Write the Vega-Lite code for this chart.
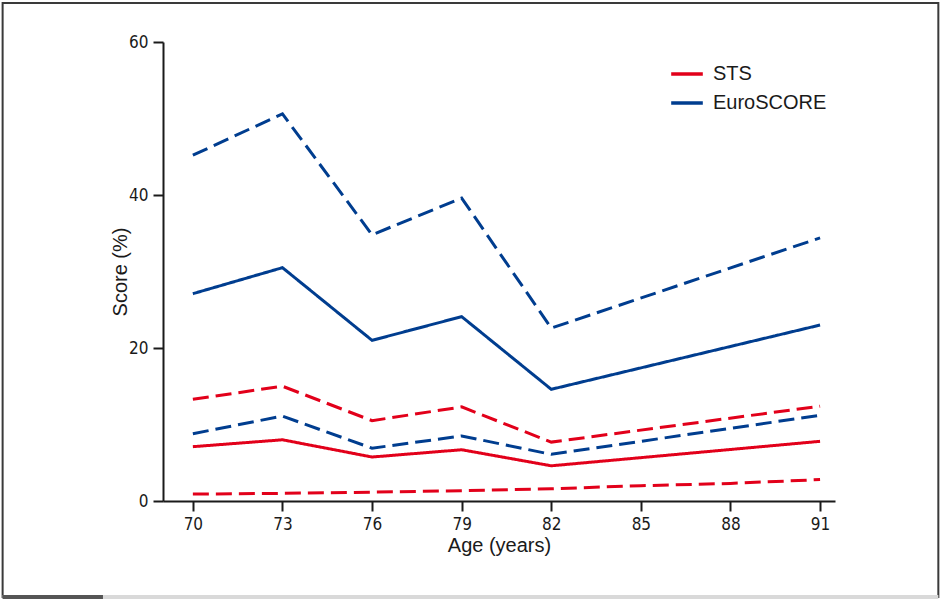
{
  "$schema": "https://vega.github.io/schema/vega-lite/v6.json",
  "width": 672,
  "height": 459,
  "autosize": {"type": "none"},
  "padding": {"left": 163, "top": 42, "right": 105, "bottom": 98},
  "background": "white",
  "config": {
    "view": {"stroke": null},
    "font": "Liberation Sans",
    "axis": {
      "domainColor": "#1a1a1a",
      "domainWidth": 2,
      "tickColor": "#1a1a1a",
      "tickWidth": 2,
      "tickSize": 10,
      "grid": false,
      "labelFont": "DejaVu Sans Condensed, Liberation Sans, sans-serif",
      "labelFontSize": 17,
      "labelColor": "#1a1a1a",
      "titleFont": "Liberation Sans",
      "titleFontSize": 20,
      "titleFontWeight": "normal",
      "titleColor": "#1a1a1a"
    },
    "legend": {
      "labelFont": "Liberation Sans",
      "labelFontSize": 20,
      "labelColor": "#1a1a1a"
    }
  },
  "datasets": {
    "scores": [
      {"age": 70, "score": 27.1, "system": "EuroSCORE", "band": "mean"},
      {"age": 73, "score": 30.5, "system": "EuroSCORE", "band": "mean"},
      {"age": 76, "score": 21.0, "system": "EuroSCORE", "band": "mean"},
      {"age": 79, "score": 24.1, "system": "EuroSCORE", "band": "mean"},
      {"age": 82, "score": 14.6, "system": "EuroSCORE", "band": "mean"},
      {"age": 91, "score": 23.0, "system": "EuroSCORE", "band": "mean"},
      {"age": 70, "score": 45.2, "system": "EuroSCORE", "band": "upper"},
      {"age": 73, "score": 50.6, "system": "EuroSCORE", "band": "upper"},
      {"age": 76, "score": 34.8, "system": "EuroSCORE", "band": "upper"},
      {"age": 79, "score": 39.6, "system": "EuroSCORE", "band": "upper"},
      {"age": 82, "score": 22.6, "system": "EuroSCORE", "band": "upper"},
      {"age": 91, "score": 34.4, "system": "EuroSCORE", "band": "upper"},
      {"age": 70, "score": 8.8, "system": "EuroSCORE", "band": "lower"},
      {"age": 73, "score": 11.1, "system": "EuroSCORE", "band": "lower"},
      {"age": 76, "score": 6.9, "system": "EuroSCORE", "band": "lower"},
      {"age": 79, "score": 8.5, "system": "EuroSCORE", "band": "lower"},
      {"age": 82, "score": 6.1, "system": "EuroSCORE", "band": "lower"},
      {"age": 91, "score": 11.2, "system": "EuroSCORE", "band": "lower"},
      {"age": 70, "score": 7.1, "system": "STS", "band": "mean"},
      {"age": 73, "score": 8.0, "system": "STS", "band": "mean"},
      {"age": 76, "score": 5.75, "system": "STS", "band": "mean"},
      {"age": 79, "score": 6.7, "system": "STS", "band": "mean"},
      {"age": 82, "score": 4.6, "system": "STS", "band": "mean"},
      {"age": 91, "score": 7.8, "system": "STS", "band": "mean"},
      {"age": 70, "score": 13.3, "system": "STS", "band": "upper"},
      {"age": 73, "score": 15.0, "system": "STS", "band": "upper"},
      {"age": 76, "score": 10.5, "system": "STS", "band": "upper"},
      {"age": 79, "score": 12.3, "system": "STS", "band": "upper"},
      {"age": 82, "score": 7.7, "system": "STS", "band": "upper"},
      {"age": 91, "score": 12.4, "system": "STS", "band": "upper"},
      {"age": 70, "score": 0.9, "system": "STS", "band": "lower"},
      {"age": 73, "score": 1.0, "system": "STS", "band": "lower"},
      {"age": 76, "score": 1.15, "system": "STS", "band": "lower"},
      {"age": 79, "score": 1.35, "system": "STS", "band": "lower"},
      {"age": 82, "score": 1.6, "system": "STS", "band": "lower"},
      {"age": 85, "score": 2.0, "system": "STS", "band": "lower"},
      {"age": 88, "score": 2.3, "system": "STS", "band": "lower"},
      {"age": 91, "score": 2.8, "system": "STS", "band": "lower"}
    ]
  },
  "layer": [
    {
      "data": {"name": "scores"},
      "mark": {"type": "line", "strokeWidth": 3},
      "encoding": {
        "x": {
          "field": "age",
          "type": "quantitative",
          "scale": {"domain": [69, 91.5], "nice": false, "zero": false},
          "axis": {"values": [70, 73, 76, 79, 82, 85, 88, 91], "title": "Age (years)", "labelPadding": 5, "titlePadding": 3}
        },
        "y": {
          "field": "score",
          "type": "quantitative",
          "scale": {"domain": [0, 60], "nice": false},
          "axis": {"values": [0, 20, 40, 60], "title": "Score (%)", "labelPadding": 5, "titlePadding": -2}
        },
        "color": {
          "field": "system",
          "type": "nominal",
          "scale": {"domain": ["STS", "EuroSCORE"], "range": ["#e2001a", "#003d8f"]},
          "legend": {
            "title": null,
            "orient": "none",
            "legendX": 506,
            "legendY": 14,
            "padding": 0,
            "symbolType": "stroke",
            "symbolSize": 1000,
            "symbolStrokeWidth": 3.5,
            "labelOffset": 8,
            "rowPadding": 1
          }
        },
        "strokeDash": {
          "field": "band",
          "type": "nominal",
          "scale": {"domain": ["mean", "upper", "lower"], "range": [[1, 0], [16, 7], [16, 7]]},
          "legend": null
        }
      }
    },
    {
      "data": {"values": [{}]},
      "mark": {"type": "rect", "fillOpacity": 0, "stroke": "#3a3a3a", "strokeWidth": 2},
      "encoding": {
        "x": {"datum": 63.63, "type": "quantitative"},
        "x2": {"datum": 94.96},
        "y": {"datum": 65.1, "type": "quantitative"},
        "y2": {"datum": -12.55}
      }
    },
    {
      "data": {"values": [{}]},
      "mark": {"type": "rect", "fill": "#d9d9d9"},
      "encoding": {
        "x": {"datum": 63.63, "type": "quantitative"},
        "x2": {"datum": 94.96},
        "y": {"datum": -12.29, "type": "quantitative"},
        "y2": {"datum": -12.85}
      }
    },
    {
      "data": {"values": [{}]},
      "mark": {"type": "rect", "fill": "#555555"},
      "encoding": {
        "x": {"datum": 63.63, "type": "quantitative"},
        "x2": {"datum": 66.99},
        "y": {"datum": -12.29, "type": "quantitative"},
        "y2": {"datum": -12.85}
      }
    }
  ]
}
